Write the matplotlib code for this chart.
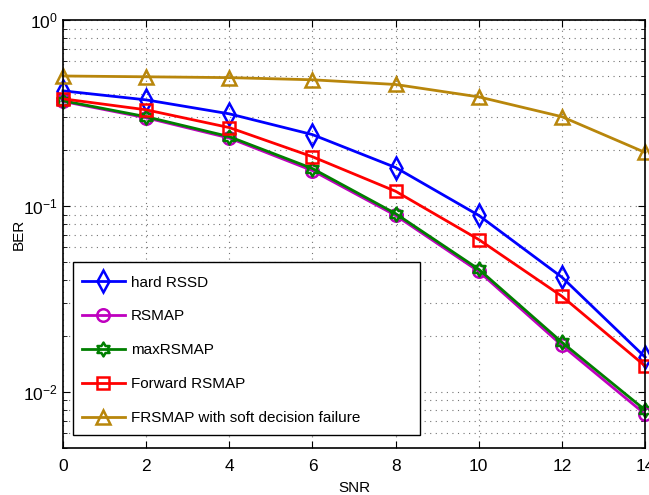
import numpy as np
import matplotlib
matplotlib.use("Agg")
import matplotlib.pyplot as plt
from matplotlib.path import Path
from matplotlib.patches import Rectangle
from matplotlib.ticker import LogLocator, NullFormatter

plt.rcParams['font.family'] = ['Liberation Sans', 'DejaVu Sans']
plt.rcParams['mathtext.fontset'] = 'custom'
plt.rcParams['mathtext.rm'] = 'Liberation Sans'
plt.rcParams['mathtext.it'] = 'Liberation Sans'

snr = [0, 2, 4, 6, 8, 10, 12, 14]
hard_rssd = [0.416, 0.372, 0.313, 0.242, 0.161, 0.089, 0.0414, 0.0154]
rsmap = [0.365, 0.298, 0.232, 0.155, 0.089, 0.0445, 0.0178, 0.0076]
max_rsmap = [0.368, 0.302, 0.236, 0.159, 0.091, 0.0457, 0.0185, 0.0080]
forward_rsmap = [0.377, 0.329, 0.264, 0.184, 0.120, 0.066, 0.0327, 0.0138]
frsmap_soft = [0.50, 0.495, 0.49, 0.477, 0.45, 0.386, 0.302, 0.194]

labels = ['hard RSSD', 'RSMAP', 'maxRSMAP', 'Forward RSMAP',
          'FRSMAP with soft decision failure']

# hexagram marker
ang = np.deg2rad(90 + 30 * np.arange(12))
rad = np.where(np.arange(12) % 2 == 0, 1.0, 1 / np.sqrt(3))
verts = np.column_stack([rad * np.cos(ang), rad * np.sin(ang)])
verts = np.vstack([verts, verts[:1]])
codes = [Path.MOVETO] + [Path.LINETO] * 11 + [Path.CLOSEPOLY]
hexagram = Path(verts, codes)

fig = plt.figure(figsize=(6.49, 4.95), dpi=100)
ax = fig.add_axes([0.097, 0.095, 0.897, 0.8646])

series = [
    (hard_rssd, 'blue', 'd', 11),
    (rsmap, '#bf00bf', 'o', 9),
    (max_rsmap, '#007f00', hexagram, 10),
    (forward_rsmap, 'red', 's', 8),
    (frsmap_soft, '#b8860b', '^', 10),
]
for (vals, col, mk, ms), lab in zip(series, labels):
    ax.semilogy(snr, vals, color=col, marker=mk, markersize=ms,
                markerfacecolor='none', markeredgecolor=col,
                markeredgewidth=1.8, linewidth=2, label=lab, clip_on=False)

ax.set_xlim(0, 14)
ax.set_ylim(0.005, 1)
ax.set_xticks(snr)
ax.yaxis.set_major_locator(LogLocator(base=10, numticks=10))
ax.yaxis.set_minor_locator(LogLocator(base=10, subs=np.arange(2, 10), numticks=20))
ax.yaxis.set_minor_formatter(NullFormatter())
ax.tick_params(which='both', direction='in', top=True, right=True, labelsize=12.5)
ax.tick_params(axis='x', which='major', pad=8)
ax.tick_params(which='major', length=5)
ax.tick_params(which='minor', length=3)
gridstyle = dict(linestyle=(0, (1, 4)), color='0.45', linewidth=0.8)
ax.grid(True, which='major', **gridstyle)
ax.grid(True, which='minor', axis='y', **gridstyle)
for sp in ax.spines.values():
    sp.set_linewidth(1.2)

ax.set_xlabel('SNR', fontsize=11, labelpad=5)
ax.set_ylabel('BER', fontsize=11, labelpad=-2)

# legend frame (MATLAB-style, wide box)
ax.add_patch(Rectangle((0.0172, 0.030), 0.596, 0.405, transform=ax.transAxes,
                       facecolor='white', edgecolor='black', linewidth=1.0,
                       zorder=4, clip_on=False))
leg = ax.legend(loc='upper left', fontsize=11, frameon=False,
                handlelength=2.8, handletextpad=0.4, labelspacing=1.3,
                borderpad=0, borderaxespad=0,
                bbox_to_anchor=(0.0326, 0.403))
leg.set_zorder(5)

fig.savefig('out.png', dpi=100)
